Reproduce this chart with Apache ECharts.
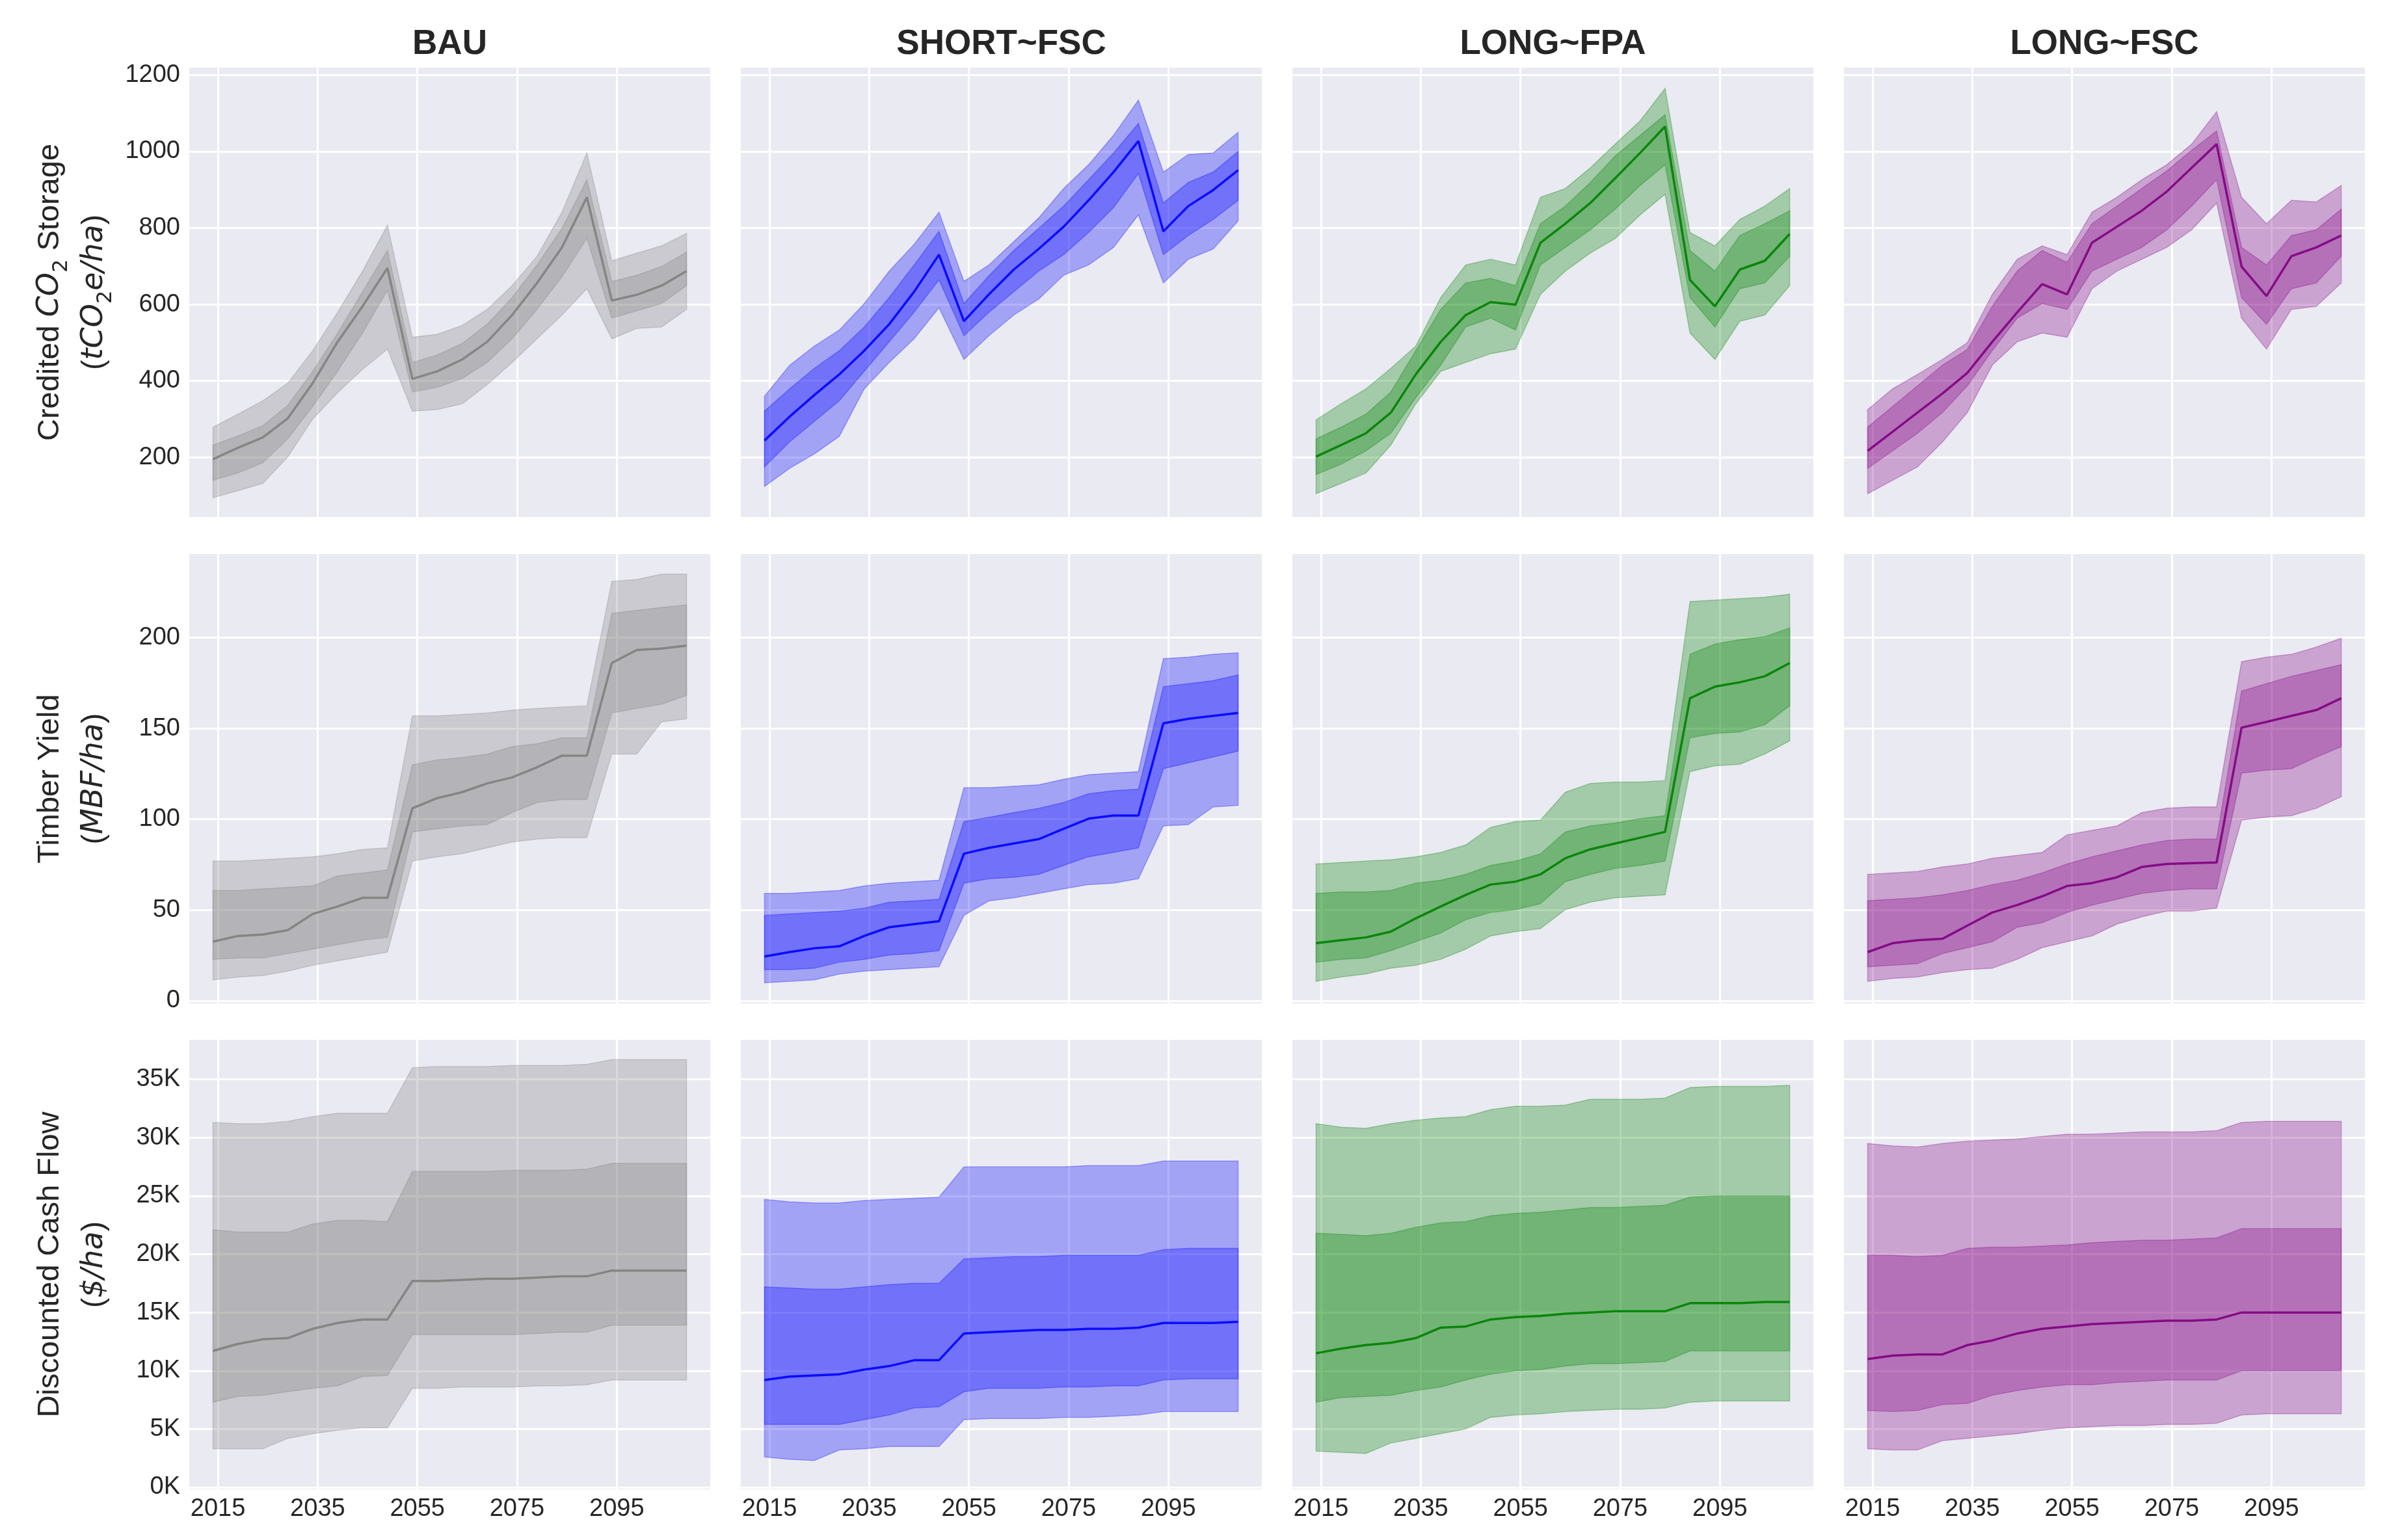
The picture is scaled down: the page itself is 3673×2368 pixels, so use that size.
<!DOCTYPE html>
<html>
<head>
<meta charset="utf-8">
<title>Scenario comparison</title>
<script src="https://cdn.jsdelivr.net/npm/echarts@6/dist/echarts.min.js"></script>
<style>
html, body { margin: 0; padding: 0; background: #fff; }
#main { width: 3673px; height: 2368px; }
</style>
</head>
<body>
<div id="main"></div>
<script>
var years = [2014, 2019, 2024, 2029, 2034, 2039, 2044, 2049, 2054, 2059,
             2064, 2069, 2074, 2079, 2084, 2089, 2094, 2099, 2104, 2109];
var scenarios = ['BAU', 'SHORT~FSC', 'LONG~FPA', 'LONG~FSC'];
var colors = [[128, 128, 128], [0, 0, 255], [0, 128, 0], [128, 0, 128]];

var xTicks = [2015, 2035, 2055, 2075, 2095];
var co2Ticks = [200, 400, 600, 800, 1000, 1200];
var timberTicks = [0, 50, 100, 150, 200];
var cashTicks = [0, 5, 10, 15, 20, 25, 30, 35];

// each panel: [lo95, lo50, median, hi50, hi95]
var co2_BAU = [
    [94, 113, 132, 201, 300, 369, 430, 483, 321, 325, 340, 390, 448, 510, 572, 641, 510, 537, 541, 587],
    [140, 159, 186, 248, 333, 425, 525, 637, 371, 383, 406, 448, 510, 587, 672, 772, 564, 583, 602, 649],
    [195, 225, 252, 302, 394, 502, 595, 695, 405, 425, 456, 502, 572, 656, 749, 880, 610, 625, 649, 687],
    [232, 256, 283, 336, 425, 525, 633, 741, 448, 468, 498, 548, 618, 703, 799, 926, 660, 676, 699, 737],
    [279, 313, 348, 394, 479, 579, 687, 807, 514, 522, 545, 587, 649, 726, 841, 996, 714, 734, 753, 786]
];
var co2_SHORT_FSC = [
    [124, 171, 209, 255, 379, 448, 510, 591, 456, 518, 572, 614, 676, 703, 749, 834, 656, 718, 745, 818],
    [175, 240, 294, 348, 425, 502, 579, 664, 518, 579, 633, 687, 730, 788, 853, 942, 730, 780, 822, 872],
    [244, 306, 363, 417, 479, 548, 633, 730, 556, 626, 691, 745, 803, 872, 946, 1027, 791, 857, 899, 951],
    [321, 379, 433, 479, 541, 618, 703, 791, 602, 675, 741, 799, 857, 926, 996, 1073, 865, 919, 946, 1000],
    [360, 440, 491, 533, 602, 687, 757, 841, 660, 703, 764, 826, 903, 965, 1042, 1134, 946, 992, 996, 1050]
];
var co2_LONG_FPA = [
    [105, 132, 159, 232, 340, 425, 448, 471, 483, 626, 687, 734, 772, 834, 888, 525, 456, 556, 572, 649],
    [155, 182, 217, 263, 356, 441, 541, 564, 533, 703, 749, 795, 849, 911, 965, 618, 541, 641, 656, 726],
    [202, 232, 263, 317, 417, 502, 572, 606, 599, 761, 811, 865, 930, 996, 1065, 664, 595, 691, 714, 784],
    [248, 279, 313, 371, 479, 587, 656, 668, 649, 811, 857, 919, 988, 1042, 1096, 741, 687, 780, 811, 845],
    [298, 340, 379, 433, 491, 618, 703, 718, 703, 880, 903, 957, 1019, 1080, 1165, 788, 753, 822, 857, 903]
];
var co2_LONG_FSC = [
    [105, 140, 175, 240, 317, 441, 502, 525, 514, 641, 687, 718, 749, 795, 865, 564, 483, 587, 595, 656],
    [171, 217, 263, 317, 387, 479, 564, 602, 587, 687, 718, 749, 795, 857, 926, 618, 548, 641, 656, 726],
    [217, 267, 317, 367, 421, 502, 579, 653, 626, 761, 803, 845, 895, 957, 1019, 699, 622, 726, 749, 780],
    [279, 333, 387, 441, 482, 595, 687, 741, 710, 811, 857, 903, 949, 1003, 1053, 749, 703, 780, 795, 849],
    [325, 379, 417, 456, 500, 626, 718, 753, 730, 841, 880, 926, 965, 1019, 1104, 880, 811, 872, 868, 911]
];

var timber_BAU = [
    [11.5, 13, 13.9, 16.3, 19.5, 22, 24.4, 26.8, 76.9, 79.3, 81, 84.2, 87.4, 89, 89.8, 89.8, 135.9, 135.9, 153.6, 155.3],
    [22.8, 23.6, 23.6, 26, 28.4, 30.9, 33.3, 34.9, 93, 94.7, 96.3, 97, 103.6, 109.2, 110.8, 110.8, 158.5, 161, 163.3, 168.2],
    [32.5, 35.7, 36.5, 38.9, 47.8, 51.9, 56.7, 56.7, 106, 111.6, 114.9, 119.7, 123, 128.6, 135, 135, 186, 193.2, 194, 195.6],
    [60.7, 60.7, 61.6, 62.4, 63.2, 68.8, 70.4, 72, 130, 132.6, 134, 135.9, 140, 141.5, 144.8, 144.8, 213.4, 215, 216.6, 218],
    [76.9, 76.9, 77.7, 78.5, 79.3, 81, 83.4, 84.2, 156.9, 156.9, 157.7, 158.5, 160, 161, 161.7, 162.5, 231, 232, 235, 235]
];
var timber_SHORT_FSC = [
    [9.9, 10.7, 11.5, 14.7, 16.3, 17.1, 17.9, 18.7, 47, 55, 56.7, 59.1, 61.6, 64, 64.8, 67.2, 96.3, 97, 106.8, 107.6],
    [17.1, 17.1, 17.9, 21.2, 22.8, 25.2, 26, 27.6, 64.8, 67.2, 68, 69.6, 74.5, 79.3, 81.7, 84.2, 127.8, 131, 134.2, 137.5],
    [24.4, 26.8, 28.9, 30, 35.7, 40.5, 42.2, 43.8, 81, 84.2, 86.6, 89, 94.7, 100.3, 102, 102, 152.8, 155.3, 156.9, 158.5],
    [47, 47.8, 48.6, 49.4, 51, 54.3, 55, 55.9, 98.7, 101, 103.6, 106, 109.2, 114, 115.7, 116.5, 173, 174.6, 176.3, 179.5],
    [59.1, 59.1, 59.9, 60.7, 63.2, 64.8, 65.6, 66.4, 117.3, 117.3, 118.1, 118.9, 122, 124.5, 125.4, 126.2, 188.4, 189.2, 190.8, 191.6]
];
var timber_LONG_FPA = [
    [10.7, 13.1, 14.7, 17.9, 19.5, 22.8, 28.4, 35.7, 38.1, 39.7, 50.2, 54.3, 56.7, 57.5, 58.3, 126.2, 129.4, 130.2, 135.9, 143.1],
    [21.2, 22.8, 23.6, 27.6, 32.5, 37.3, 44.6, 48.6, 50.2, 53.5, 65.6, 69.6, 72.9, 74.5, 76.9, 144.8, 147.2, 148, 152, 162.5],
    [31.7, 33.3, 34.9, 38.1, 45.4, 51.9, 58.3, 64, 65.6, 69.6, 78.5, 83.4, 86.6, 89.8, 93, 166.6, 173, 175.4, 178.7, 186],
    [59.1, 59.9, 59.9, 60.7, 64.8, 66.4, 69.6, 74.5, 76.9, 80.9, 93, 96.3, 97.9, 100.3, 101.9, 190.8, 196.4, 198.9, 200.5, 205.3],
    [75.3, 76.1, 76.9, 77.7, 79.3, 81.7, 85.8, 95.5, 98.7, 99.5, 114.9, 119.7, 120.5, 120.5, 121.3, 219.9, 220.7, 221.5, 222.3, 223.9]
];
var timber_LONG_FSC = [
    [10.7, 12.3, 13.1, 15.5, 17.1, 17.9, 22.8, 29.2, 32.5, 35.7, 42.2, 46.2, 49.4, 49.4, 51, 99.5, 101.1, 101.9, 106, 112.4],
    [18.7, 19.5, 20.4, 26, 29.2, 32.5, 40.5, 43, 48.6, 52.7, 55.9, 59.1, 60.7, 61.6, 61.6, 125.4, 127, 127.8, 134.2, 139.9],
    [26.8, 31.7, 33.3, 34.1, 41.4, 48.6, 52.7, 57.5, 63.2, 64.8, 68, 73.7, 75.3, 75.8, 76.1, 150.4, 153.6, 156.9, 160.1, 166.6],
    [55.1, 55.9, 56.7, 58.3, 60.7, 64, 66.4, 70.4, 75.3, 79.3, 82.6, 85.8, 88.2, 89, 89, 170.6, 174.6, 178.7, 181.9, 185.1],
    [69.6, 70.4, 71.2, 73.7, 75.3, 78.5, 80.1, 81.7, 91.4, 93.9, 96.3, 103.6, 106, 106.8, 106.8, 186.8, 189.2, 190.8, 194.8, 199.7]
];

// cash flow in thousands of $/ha
var cash_BAU = [
    [3.3, 3.3, 3.3, 4.2, 4.6, 4.9, 5.1, 5.1, 8.5, 8.5, 8.6, 8.6, 8.6, 8.7, 8.7, 8.8, 9.2, 9.2, 9.2, 9.2],
    [7.3, 7.8, 7.9, 8.2, 8.5, 8.7, 9.5, 9.6, 13.1, 13.1, 13.1, 13.1, 13.1, 13.2, 13.3, 13.3, 13.9, 13.9, 13.9, 13.9],
    [11.7, 12.3, 12.7, 12.8, 13.6, 14.1, 14.4, 14.4, 17.7, 17.7, 17.8, 17.9, 17.9, 18.0, 18.1, 18.1, 18.6, 18.6, 18.6, 18.6],
    [22.1, 21.9, 21.9, 21.9, 22.6, 22.9, 22.9, 22.8, 27.1, 27.1, 27.1, 27.1, 27.2, 27.2, 27.2, 27.3, 27.8, 27.8, 27.8, 27.8],
    [31.3, 31.2, 31.2, 31.4, 31.8, 32.1, 32.1, 32.1, 36.0, 36.1, 36.1, 36.1, 36.2, 36.2, 36.2, 36.3, 36.7, 36.7, 36.7, 36.7]
];
var cash_SHORT_FSC = [
    [2.6, 2.4, 2.3, 3.2, 3.3, 3.5, 3.5, 3.5, 5.8, 5.9, 5.9, 5.9, 6.0, 6.0, 6.1, 6.2, 6.5, 6.5, 6.5, 6.5],
    [5.4, 5.4, 5.4, 5.4, 5.8, 6.2, 6.8, 6.9, 8.2, 8.5, 8.5, 8.5, 8.6, 8.6, 8.7, 8.7, 9.2, 9.3, 9.3, 9.3],
    [9.2, 9.5, 9.6, 9.7, 10.1, 10.4, 10.9, 10.9, 13.2, 13.3, 13.4, 13.5, 13.5, 13.6, 13.6, 13.7, 14.1, 14.1, 14.1, 14.2],
    [17.2, 17.1, 17.0, 17.0, 17.2, 17.4, 17.5, 17.5, 19.6, 19.7, 19.8, 19.8, 19.9, 19.9, 19.9, 19.9, 20.4, 20.5, 20.5, 20.5],
    [24.7, 24.5, 24.4, 24.4, 24.6, 24.7, 24.8, 24.9, 27.5, 27.5, 27.5, 27.5, 27.5, 27.6, 27.6, 27.6, 28.0, 28.0, 28.0, 28.0]
];
var cash_LONG_FPA = [
    [3.1, 3.0, 2.9, 3.8, 4.2, 4.6, 5.0, 6.0, 6.2, 6.3, 6.5, 6.6, 6.7, 6.7, 6.8, 7.3, 7.4, 7.4, 7.4, 7.4],
    [7.3, 7.7, 7.8, 7.9, 8.3, 8.6, 9.2, 9.7, 10.0, 10.1, 10.4, 10.6, 10.6, 10.7, 10.8, 11.7, 11.7, 11.7, 11.7, 11.7],
    [11.5, 11.9, 12.2, 12.4, 12.8, 13.7, 13.8, 14.4, 14.6, 14.7, 14.9, 15.0, 15.1, 15.1, 15.1, 15.8, 15.8, 15.8, 15.9, 15.9],
    [21.8, 21.7, 21.6, 21.8, 22.3, 22.7, 22.8, 23.3, 23.5, 23.6, 23.8, 24.0, 24.0, 24.1, 24.2, 24.9, 25.0, 25.0, 25.0, 25.0],
    [31.2, 30.9, 30.8, 31.2, 31.5, 31.7, 31.8, 32.4, 32.7, 32.7, 32.8, 33.3, 33.3, 33.3, 33.4, 34.3, 34.4, 34.4, 34.4, 34.5]
];
var cash_LONG_FSC = [
    [3.3, 3.2, 3.2, 4.0, 4.2, 4.4, 4.6, 4.9, 5.1, 5.2, 5.3, 5.3, 5.4, 5.4, 5.5, 6.2, 6.3, 6.3, 6.3, 6.3],
    [6.6, 6.5, 6.6, 7.1, 7.2, 7.9, 8.3, 8.6, 8.8, 8.8, 9.0, 9.1, 9.2, 9.2, 9.2, 10.0, 10.0, 10.0, 10.0, 10.0],
    [11.0, 11.3, 11.4, 11.4, 12.2, 12.6, 13.2, 13.6, 13.8, 14.0, 14.1, 14.2, 14.3, 14.3, 14.4, 15.0, 15.0, 15.0, 15.0, 15.0],
    [19.9, 19.9, 19.8, 19.9, 20.5, 20.6, 20.6, 20.7, 20.8, 21.0, 21.1, 21.2, 21.2, 21.3, 21.4, 22.2, 22.2, 22.2, 22.2, 22.2],
    [29.5, 29.3, 29.2, 29.5, 29.7, 29.8, 29.9, 30.1, 30.3, 30.3, 30.4, 30.5, 30.5, 30.5, 30.6, 31.3, 31.4, 31.4, 31.4, 31.4]
];

var rows = [
    {
        panels: [co2_BAU, co2_SHORT_FSC, co2_LONG_FPA, co2_LONG_FSC],
        ticks: co2Ticks, min: 44, max: 1219,
        name: '{n|Credited }{m|CO}{s|2}{n| Storage}\n{n|(}{m|tCO}{s|2}{m|e/ha}{n|)}',
        fmt: function (v) { return String(v); }
    },
    {
        panels: [timber_BAU, timber_SHORT_FSC, timber_LONG_FPA, timber_LONG_FSC],
        ticks: timberTicks, min: -1.5, max: 246,
        name: '{n|Timber Yield}\n{n|(}{m|MBF/ha}{n|)}',
        fmt: function (v) { return String(v); }
    },
    {
        panels: [cash_BAU, cash_SHORT_FSC, cash_LONG_FPA, cash_LONG_FSC],
        ticks: cashTicks, min: -0.17, max: 38.39,
        name: '{n|Discounted Cash Flow}\n{n|(}{m|$/ha}{n|)}',
        fmt: function (v) { return v + 'K'; }
    }
];

var lefts = [291, 1139, 1987, 2835];
var tops = [104, 852, 1599];
var W = 801, H = 691;
var textColor = '#262626';

var nameRich = {
    n: { fontFamily: 'Liberation Sans', fontSize: 47, color: textColor, lineHeight: 68 },
    m: { fontFamily: 'DejaVu Sans', fontStyle: 'italic', fontSize: 46, color: textColor, lineHeight: 68 },
    s: { fontFamily: 'DejaVu Sans', fontSize: 32, color: textColor, lineHeight: 38, verticalAlign: 'bottom' }
};

function rgba(c, a) {
    return 'rgba(' + c[0] + ',' + c[1] + ',' + c[2] + ',' + a + ')';
}

function pairs(arr) {
    return years.map(function (y, i) { return [y, arr[i]]; });
}

// filled band between lo and hi, drawn as one polygon through the axis scales
var bandSeries = function (idx, lo, hi, col) {
    return {
        type: 'custom', xAxisIndex: idx, yAxisIndex: idx, silent: true,
        data: years.map(function (y, i) { return [y, lo[i], hi[i]]; }),
        encode: { x: 0, y: [1, 2] },
        renderItem: function (params, api) {
            if (params.dataIndex !== 0) return null;
            var upper = [], lower = [];
            years.forEach(function (y, i) {
                upper.push(api.coord([y, hi[i]]));
                lower.unshift(api.coord([y, lo[i]]));
            });
            return {
                type: 'polygon',
                shape: { points: upper.concat(lower) },
                style: { fill: rgba(col, 0.3), stroke: rgba(col, 0.3), lineWidth: 1.5 }
            };
        }
    };
};

var grids = [], xAxes = [], yAxes = [], series = [], graphics = [];

rows.forEach(function (row, r) {
    row.panels.forEach(function (p, c) {
        var idx = grids.length;
        var col = colors[c];
        grids.push({
            left: lefts[c], top: tops[r], width: W, height: H,
            show: true, backgroundColor: '#eaeaf2', borderWidth: 0
        });
        xAxes.push({
            gridIndex: idx, type: 'value', min: 2009.25, max: 2113.75,
            axisLine: { show: false },
            axisTick: { show: false, customValues: xTicks },
            axisLabel: {
                show: r === 2, customValues: xTicks, margin: 12,
                fontFamily: 'Liberation Sans', fontSize: 38, color: textColor,
                formatter: function (v) { return String(v); }
            },
            splitLine: { show: true, lineStyle: { color: '#ffffff', width: 3 } }
        });
        var ya = {
            gridIndex: idx, type: 'value', min: row.min, max: row.max,
            axisLine: { show: false },
            axisTick: { show: false, customValues: row.ticks },
            axisLabel: {
                show: c === 0, customValues: row.ticks, margin: 14,
                fontFamily: 'Liberation Sans', fontSize: 38, color: textColor,
                formatter: row.fmt
            },
            splitLine: { show: true, lineStyle: { color: '#ffffff', width: 3 } }
        };
        if (c === 0) {
            ya.name = row.name;
            ya.nameLocation = 'middle';
            ya.nameRotate = 90;
            ya.nameGap = 112;
            ya.nameTextStyle = { color: textColor, rich: nameRich };
        }
        yAxes.push(ya);

        series.push(bandSeries(idx, p[0], p[4], col));
        series.push(bandSeries(idx, p[1], p[3], col));
        series.push({
            type: 'line', xAxisIndex: idx, yAxisIndex: idx,
            data: pairs(p[2]), symbol: 'none', silent: true, z: 3,
            lineStyle: { color: rgba(col, 1), width: 3.5, opacity: 0.9 }
        });
    });
});

scenarios.forEach(function (s, c) {
    graphics.push({
        type: 'text', x: lefts[c] + W / 2, y: 68,
        style: {
            text: s, fill: textColor, align: 'center', verticalAlign: 'middle',
            font: 'bold 53px "Liberation Sans", Arial, sans-serif'
        }
    });
});

var chart = echarts.init(document.getElementById('main'), null, { renderer: 'canvas' });
chart.setOption({
    animation: false,
    backgroundColor: '#ffffff',
    grid: grids,
    xAxis: xAxes,
    yAxis: yAxes,
    series: series,
    graphic: graphics
});
</script>
</body>
</html>
